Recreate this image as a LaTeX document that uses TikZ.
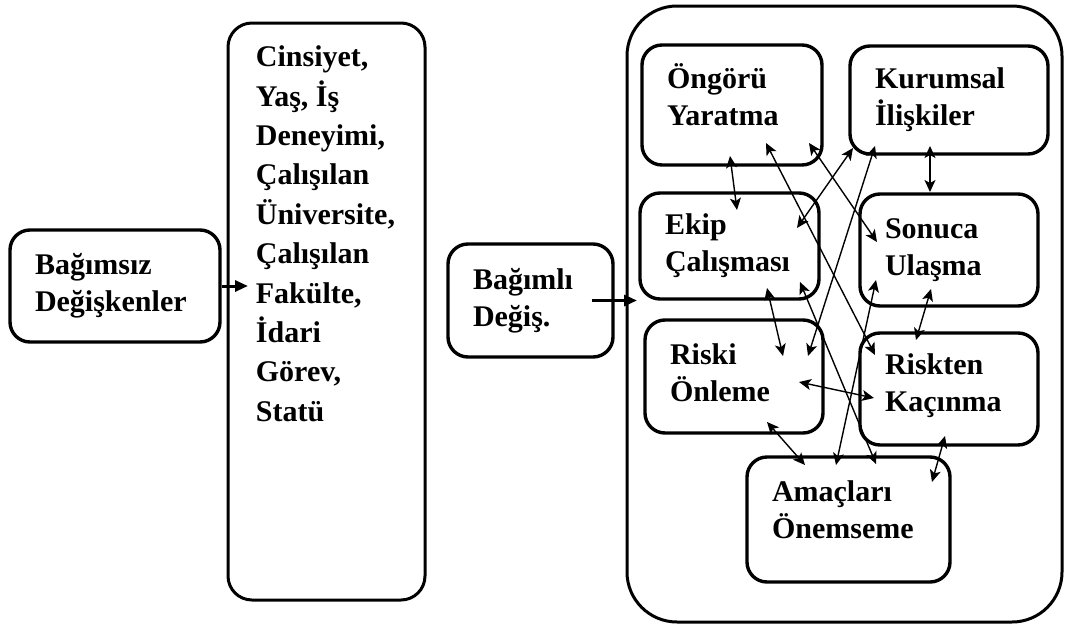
\documentclass[tikz,border=0pt]{standalone}
\usepackage{fontspec}
\setmainfont{Liberation Serif}
\usetikzlibrary{arrows.meta}
\newcommand{\lowpad}[1]{\rule[-#1]{0pt}{0pt}}

\begin{document}
\begin{tikzpicture}[x=0.5pt, y=-0.5pt, every node/.style={font=\bfseries\fontsize{15}{18.5}\selectfont}]
\tikzset{box/.style={draw, line width=1.7pt, rounded corners=10pt, align=left, inner xsep=12.5pt, inner ysep=0pt}}
\tikzset{biarrow/.style={{Stealth[length=6pt,width=5.5pt,inset=1.5pt]}-{Stealth[length=6pt,width=5.5pt,inset=1.5pt]}, line width=0.7pt}}
\tikzset{mainarrow/.style={-{Triangle[length=6.5pt,width=5.5pt]}, line width=1.5pt}}
\useasboundingbox (0,0) rectangle (1066,627);
% left part
\node[box, minimum width=105pt, minimum height=56pt, text width=80pt] (bagimsiz) at (115,286) {Bağımsız\\Değişkenler};
\node[box, line width=1.5pt, rounded corners=12pt, minimum width=98.5pt, minimum height=288.5pt] (tall) at (326.5,311.5) {};
\node[anchor=north west, inner sep=0pt, align=left, font=\bfseries\fontsize{15}{19.7}\selectfont] (talltext) at ([shift={(29,24)}]tall.north west) {Cinsiyet,\\Yaş, İş\\Deneyimi,\\Çalışılan\\Üniversite,\\Çalışılan\\Fakülte,\\İdari\\Görev,\\Statü};
\node[box, minimum width=82.5pt, minimum height=56.5pt, text width=57.5pt] (bagimli) at (530.5,300.5) {Bağımlı\\Değiş.};
\coordinate (tallin) at (248,286);
\coordinate (outerin) at (637,300.5);
\draw[mainarrow] (bagimsiz.east) -- (tallin);
\draw[mainarrow] ([xshift=-11.5pt]bagimli.east) -- (outerin);
% right part
\node[box, line width=1.5pt, rounded corners=25pt, minimum width=217.5pt, minimum height=308pt] (outer) at (844.5,314) {};
\node[box, minimum width=90pt, minimum height=60pt, text width=65pt] (ongoru) at (732,105) {Öngörü\\Yaratma\lowpad{10.3pt}};
\node[box, minimum width=99pt, minimum height=54pt, text width=74pt] (kurumsal) at (949,100) {Kurumsal\\İlişkiler};
\node[box, minimum width=89.5pt, minimum height=53pt, text width=64.5pt] (ekip) at (729.5,246) {Ekip\\Çalışması};
\node[box, minimum width=89pt, minimum height=56pt, text width=64pt] (sonuca) at (949,250) {Sonuca\\Ulaşma};
\node[box, minimum width=89pt, minimum height=56.5pt, text width=64pt] (riski) at (734,376.5) {Riski\\Önleme\lowpad{4pt}};
\node[box, minimum width=89pt, minimum height=56pt, text width=64pt] (riskten) at (949,389) {Riskten\\Kaçınma\lowpad{6pt}};
\node[box, minimum width=101.5pt, minimum height=62.5pt, text width=76.5pt] (amaclari) at (848.5,519.5) {Amaçları\\Önemseme\lowpad{10pt}};
% links
\draw[biarrow] ([shift={(-2,51)}]ongoru.center) -- ([shift={(7.5,-36)}]ekip.center);
\draw[biarrow] ([shift={(34,38)}]ongoru.center) -- ([shift={(-74,-34)}]riskten.center);
\draw[biarrow] ([shift={(77,38)}]ongoru.center) -- ([shift={(-72,-8)}]sonuca.center);
\draw[biarrow] ([shift={(-96,48)}]kurumsal.center) -- ([shift={(67.5,-18)}]ekip.center);
\draw[biarrow] ([shift={(-74,46)}]kurumsal.center) -- ([shift={(74,-20.5)}]riski.center);
\draw[biarrow] ([shift={(-19,46)}]kurumsal.center) -- ([shift={(-19,-58)}]sonuca.center);
\draw[biarrow] ([shift={(37.5,42)}]ekip.center) -- ([shift={(49,-20.5)}]riski.center);
\draw[biarrow] ([shift={(70.5,36)}]ekip.center) -- ([shift={(27.5,-55.5)}]amaclari.center);
\draw[biarrow] ([shift={(-73,30)}]sonuca.center) -- ([shift={(-12.5,-54.5)}]amaclari.center);
\draw[biarrow] ([shift={(-18,39)}]sonuca.center) -- ([shift={(-33,-49)}]riskten.center);
\draw[biarrow] ([shift={(65,5.5)}]riski.center) -- ([shift={(-75,9)}]riskten.center);
\draw[biarrow] ([shift={(33,45.5)}]riski.center) -- ([shift={(-43.5,-54.5)}]amaclari.center);
\draw[biarrow] ([shift={(-4,47)}]riskten.center) -- ([shift={(83.5,-37.5)}]amaclari.center);
\end{tikzpicture}
\end{document}
